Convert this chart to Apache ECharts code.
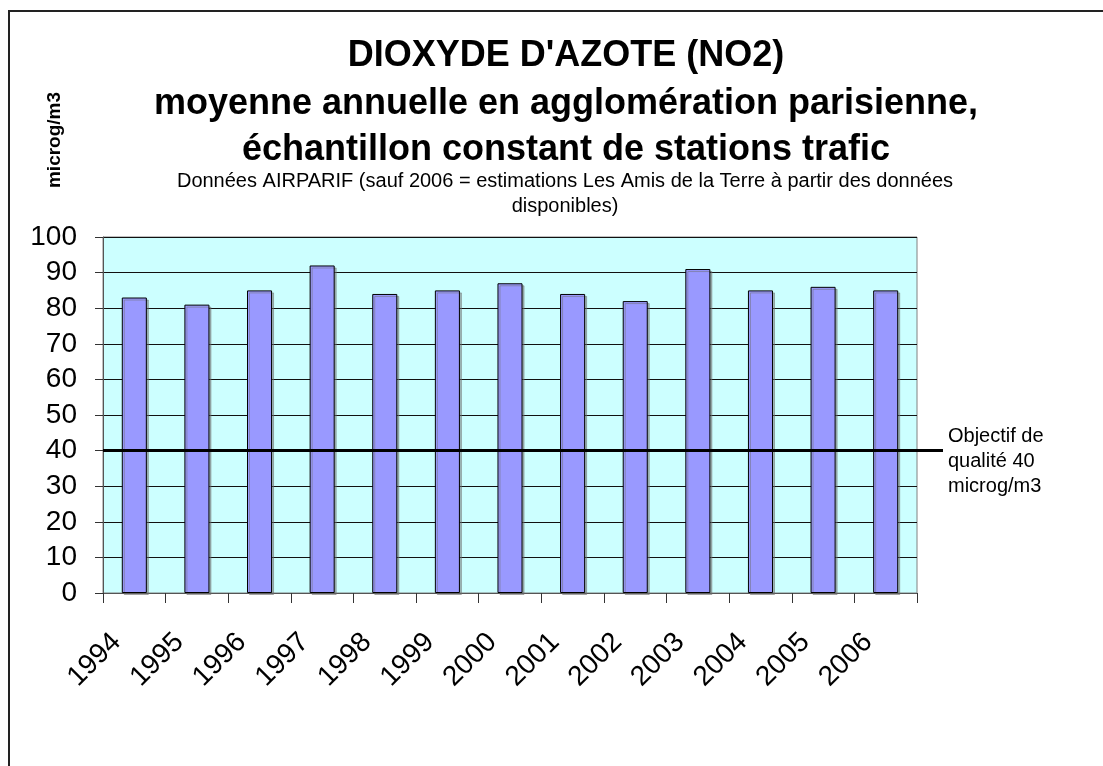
<!DOCTYPE html>
<html><head><meta charset="utf-8">
<script src="https://cdn.jsdelivr.net/npm/echarts@6/dist/echarts.min.js"></script>
<style>html,body{margin:0;padding:0;background:#fff}#c{width:1103px;height:766px}</style>
</head><body><div id="c"></div>
<script>
const categories = ['1994','1995','1996','1997','1998','1999','2000','2001','2002','2003','2004','2005','2006'];
const no2Values = [83, 81, 85, 92, 84, 85, 87, 84, 82, 91, 85, 86, 85];
const objectiveValue = 40;
const yTicks = { min: 0, max: 100, interval: 10 };
const titleLines = ["DIOXYDE D'AZOTE (NO2)", "moyenne annuelle en agglomération parisienne,", "échantillon constant de stations trafic"];
const subtitleLines = ["Données AIRPARIF (sauf 2006 = estimations Les Amis de la Terre à partir des données", "disponibles)"];
const yName = 'microg/m3';
const objectiveLabel = 'Objectif de\nqualité 40\nmicrog/m3';

const FONT = '"Liberation Sans", Arial, sans-serif';
const chart = echarts.init(document.getElementById('c'), null, {renderer: 'canvas'});
chart.setOption({
  animation: false,
  backgroundColor: '#fff',
  textStyle: { fontFamily: FONT },
  graphic: [
    { type: 'rect', shape: { x: 9, y: 11, width: 1200, height: 900 }, style: { fill: 'none', stroke: '#222', lineWidth: 2 }, silent: true },
    { type: 'text', x: 566, y: 56.5, style: { text: titleLines[0], font: 'bold 36px ' + FONT, fill: '#000', textAlign: 'center', textVerticalAlign: 'middle' } },
    { type: 'text', x: 566, y: 104, style: { text: titleLines[1], font: 'bold 36px ' + FONT, fill: '#000', textAlign: 'center', textVerticalAlign: 'middle' } },
    { type: 'text', x: 566, y: 150, style: { text: titleLines[2], font: 'bold 36px ' + FONT, fill: '#000', textAlign: 'center', textVerticalAlign: 'middle' } },
    { type: 'text', x: 565, y: 181, style: { text: subtitleLines[0], font: '20px ' + FONT, fill: '#000', textAlign: 'center', textVerticalAlign: 'middle' } },
    { type: 'text', x: 565, y: 206.5, style: { text: subtitleLines[1], font: '20px ' + FONT, fill: '#000', textAlign: 'center', textVerticalAlign: 'middle' } },
    { type: 'text', x: 55, y: 140, rotation: Math.PI / 2, style: { text: yName, font: 'bold 19px ' + FONT, fill: '#000', textAlign: 'center', textVerticalAlign: 'middle' } }
  ],
  grid: [
    { left: 103, right: 186, top: 237, bottom: 173, show: true, backgroundColor: '#CCFFFF', borderColor: '#808080', borderWidth: 1, containLabel: false },
    { left: 103, right: 160, top: 237, bottom: 173, show: false }
  ],
  xAxis: [
    {
      type: 'category', gridIndex: 0, data: categories, boundaryGap: true,
      axisLine: { lineStyle: { color: '#555', width: 1 } },
      axisTick: { show: true, length: 10, inside: false, alignWithLabel: false, lineStyle: { color: '#333' } },
      axisLabel: { rotate: 45, fontSize: 28, color: '#000', margin: 27, padding: [0, 25, 0, 0], interval: 0, fontFamily: FONT },
      splitLine: { show: false }
    },
    { type: 'value', gridIndex: 1, min: 0, max: 1, show: false }
  ],
  yAxis: [
    {
      type: 'value', gridIndex: 0, min: yTicks.min, max: yTicks.max, interval: yTicks.interval,
      axisLine: { show: true, lineStyle: { color: '#555' } },
      axisTick: { show: true, length: 8, lineStyle: { color: '#333' } },
      axisLabel: { fontSize: 28, color: '#000', margin: 26, fontFamily: FONT },
      splitLine: { show: true, lineStyle: { color: '#111', width: 1 } }
    },
    { type: 'value', gridIndex: 1, min: yTicks.min, max: yTicks.max, show: false }
  ],
  series: [
    {
      type: 'bar', xAxisIndex: 0, yAxisIndex: 0, data: no2Values, barWidth: '40%',
      itemStyle: { color: '#9999FF', borderColor: '#000', borderWidth: 1, shadowColor: 'rgba(110,110,110,0.5)', shadowOffsetX: 2, shadowOffsetY: 2, shadowBlur: 0 },
      z: 3
    },
    {
      type: 'line', xAxisIndex: 1, yAxisIndex: 1, data: [[0, objectiveValue], [1, objectiveValue]],
      symbol: 'none', lineStyle: { color: '#000', width: 3 }, z: 5,
      endLabel: { show: true, formatter: objectiveLabel, fontSize: 20, lineHeight: 25, color: '#000', distance: 5, offset: [0, 11], align: 'left', fontFamily: FONT }
    }
  ]
});
</script>
</body></html>
